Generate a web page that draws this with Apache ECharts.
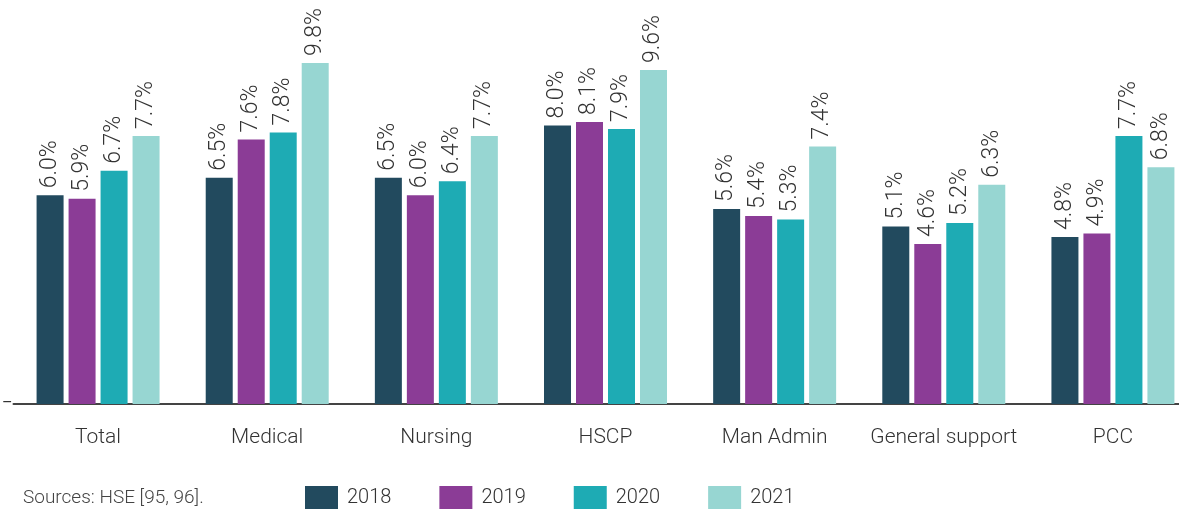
<!DOCTYPE html>
<html><head><meta charset="utf-8">
<script src="https://cdn.jsdelivr.net/npm/echarts@6/dist/echarts.min.js"></script>
<style>html,body{margin:0;padding:0;background:#fff}#c{width:1179px;height:512px}</style>
</head><body><div id="c"></div>
<script>
const categories = ['Total','Medical','Nursing','HSCP','Man Admin','General support','PCC'];
const years = ['2018','2019','2020','2021'];
const v2018 = [6.0, 6.5, 6.5, 8.0, 5.6, 5.1, 4.8];
const v2019 = [5.9, 7.6, 6.0, 8.1, 5.4, 4.6, 4.9];
const v2020 = [6.7, 7.8, 6.4, 7.9, 5.3, 5.2, 7.7];
const v2021 = [7.7, 9.8, 7.7, 9.6, 7.4, 6.3, 6.8];
const colors = ['#224a5e','#8b3c96','#1eabb4','#97d6d2'];
const FONT = 'Roboto';
const chart = echarts.init(document.getElementById('c'), null, {renderer:'canvas'});
const values = [v2018, v2019, v2020, v2021];
chart.setOption({
  animation:false,
  textStyle:{fontFamily:FONT},
  title:{text:'Sources: HSE [95, 96].', left:18, bottom:-1,
    textStyle:{fontFamily:FONT, fontWeight:300, fontSize:19, color:'#444'}},
  legend:{bottom:-2, left:300, itemWidth:33, itemHeight:23, itemGap:48,
    icon:'rect',
    textStyle:{fontFamily:FONT, fontWeight:300, fontSize:20, color:'#333', padding:[0,0,0,4]},
    data:years},
  grid:{left:13.5, width:1184, top:56, bottom:108, containLabel:false, outerBoundsMode:'none'},
  xAxis:{type:'category', data:categories,
    axisLine:{lineStyle:{color:'#444', width:2}}, axisTick:{show:false},
    axisLabel:{interval:0, fontFamily:FONT, fontWeight:300, fontSize:21, color:'#333', margin:23}},
  yAxis:{type:'value', min:0, max:10, interval:10, splitLine:{show:false},
    axisLine:{show:false}, axisTick:{show:false},
    axisLabel:{show:true, margin:1, fontSize:16, color:'#333', showMinLabel:true,
      formatter:function(v){ return Number(v)===0 ? '–' : ''; }}},
  series: years.map((y,i)=>({
    name:y, type:'bar', data:values[i], barWidth:27, barGap:'18.5%',
    itemStyle:{color:colors[i]},
    label:{show:true, position:'top', rotate:90, align:'left', verticalAlign:'middle', distance:7,
      fontFamily:FONT, fontWeight:300, fontSize:23, color:'#333',
      formatter:p=>p.value.toFixed(1)+'%'}
  }))
});
</script></body></html>
